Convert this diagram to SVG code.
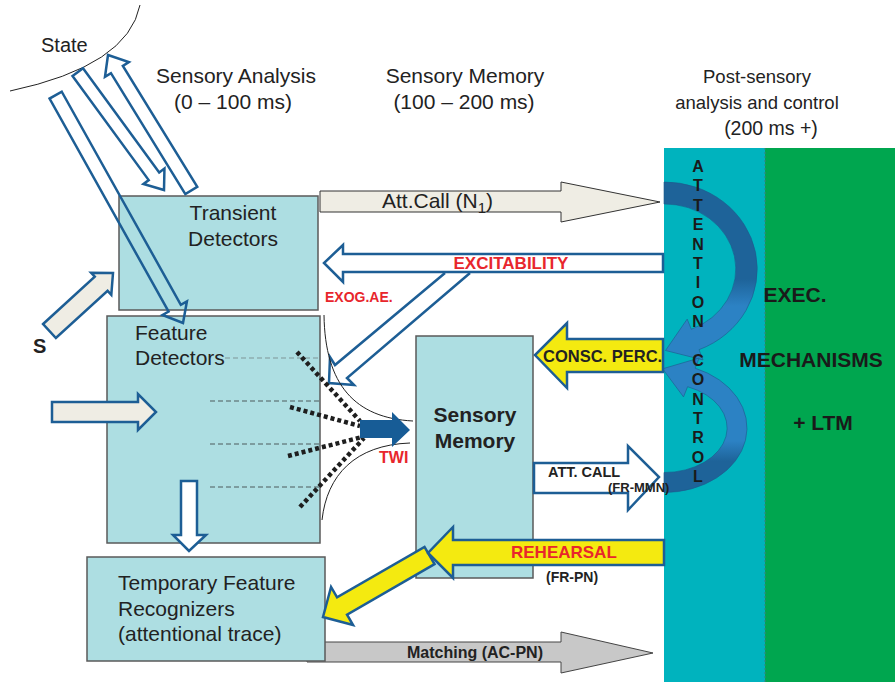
<svg xmlns="http://www.w3.org/2000/svg" width="895" height="682" viewBox="0 0 895 682">
<style>
text{font-family:"Liberation Sans",Arial,sans-serif;}
.hdr{font-size:21px;fill:#222;text-anchor:middle;}
.box{fill:#ADDEE2;stroke:#5a5a5a;stroke-width:1.5;}
.bt{font-size:21px;fill:#222;}
.bo{stroke:#1D5E95;stroke-width:2.5;stroke-linejoin:miter;}
.wh{fill:#fff;}
.cr{fill:#EFEDE4;}
.ye{fill:#F4EA10;}
.lb{font-weight:bold;fill:#222;}
.red{font-weight:bold;fill:#E8262C;}
.dash{stroke:#4d5a5c;stroke-width:1;stroke-dasharray:5,3;fill:none;}
.dot{stroke:#1e1e1e;stroke-width:4.5;stroke-dasharray:4,3;fill:none;}
.thin{stroke:#222;stroke-width:1;fill:none;}
.ac{font-size:16px;font-weight:bold;fill:#1a1a1a;text-anchor:middle;}
.ex{font-size:21px;font-weight:bold;fill:#1a1a1a;text-anchor:middle;}
</style>
<defs>
<linearGradient id="gUp" gradientUnits="userSpaceOnUse" x1="0" y1="180" x2="0" y2="360">
<stop offset="0" stop-color="#1E6399"/><stop offset="0.55" stop-color="#1E6399"/><stop offset="0.7" stop-color="#2C82C4"/><stop offset="1" stop-color="#2C82C4"/>
</linearGradient>
<linearGradient id="gLo" gradientUnits="userSpaceOnUse" x1="0" y1="360" x2="0" y2="495">
<stop offset="0" stop-color="#2C82C4"/><stop offset="0.6" stop-color="#2C82C4"/><stop offset="0.75" stop-color="#1E6399"/><stop offset="1" stop-color="#1E6399"/>
</linearGradient>
</defs>
<rect width="895" height="682" fill="#fff"/>

<!-- right columns -->
<g id="attention-control">
<rect x="664" y="148" width="101" height="534" fill="#00B3BE"/>
<path d="M664,182 A93,87 0 0 1 699,349.7 L703,359.9 L665.5,350.5 L687.2,319.1 L691.3,329.3 A71,65 0 0 0 664,204 Z" fill="url(#gUp)" stroke="#1B5A8C" stroke-width="0.6"/>
<path d="M664,492.5 A83,64.5 0 0 0 695.1,368.2 L699.2,358 L662.6,368.8 L683.5,396.9 L687.6,386.7 A63,44.5 0 0 1 664,472.5 Z" fill="url(#gLo)" stroke="#1B5A8C" stroke-width="0.6"/>
<text class="ac"><tspan x="698" y="172">A</tspan><tspan x="698" y="191.4">T</tspan><tspan x="698" y="210.8">T</tspan><tspan x="698" y="230.1">E</tspan><tspan x="698" y="249.5">N</tspan><tspan x="698" y="268.9">T</tspan><tspan x="698" y="288.3">I</tspan><tspan x="698" y="307.6">O</tspan><tspan x="698" y="327">N</tspan><tspan x="698" y="365.8">C</tspan><tspan x="698" y="385.1">O</tspan><tspan x="698" y="404.5">N</tspan><tspan x="698" y="423.9">T</tspan><tspan x="698" y="443.3">R</tspan><tspan x="698" y="462.6">O</tspan><tspan x="698" y="482">L</tspan></text>
</g>
<g id="exec-mechanisms">
<rect x="765" y="148" width="130" height="534" fill="#00A64F"/>
<line x1="765" y1="148" x2="765" y2="682" stroke="#3d7f80" stroke-width="1" stroke-dasharray="2,2"/>
<text class="ex" x="795" y="302">EXEC.</text>
<text class="ex" x="811" y="367">MECHANISMS</text>
<text class="ex" x="823" y="430">+ LTM</text>
</g>

<!-- headers -->
<g id="headers">
<text class="hdr" x="236" y="83">Sensory Analysis</text>
<text class="hdr" x="233" y="109">(0 – 100 ms)</text>
<text class="hdr" x="465" y="83">Sensory Memory</text>
<text class="hdr" x="464" y="109">(100 – 200 ms)</text>
<text class="hdr" x="757" y="83" style="font-size:18.5px">Post-sensory</text>
<text class="hdr" x="757" y="109" style="font-size:18.5px">analysis and control</text>
<text class="hdr" x="771" y="135" style="font-size:19.5px">(200 ms +)</text>
</g>

<g id="state">
<path d="M10,91 Q128,66 140,5" class="thin"/>
<text x="41" y="52" style="font-size:20px;fill:#222">State</text>
</g>

<!-- connector behind temporary box -->
<g id="connectors-back">
<polygon points="307,642 561,642 561,632 653,653 561,673 561,662 307,662" fill="#C8C8C8" stroke="#444" stroke-width="1"/>
<text class="lb" x="407" y="658" style="font-size:16px">Matching (AC-PN)</text>
</g>

<g id="transient-detectors">
<rect class="box" x="119" y="196" width="199" height="114"/>
<text class="bt" x="233" y="220" text-anchor="middle">Transient</text>
<text class="bt" x="233" y="246" text-anchor="middle">Detectors</text>
</g>

<g id="feature-detectors">
<rect class="box" x="107" y="316" width="213" height="227"/>
<text class="bt" x="135" y="340">Feature</text>
<text class="bt" x="135" y="365">Detectors</text>
<line class="dash" x1="225" y1="358" x2="320" y2="358" style="stroke:#7f9597"/>
<line class="dash" x1="210" y1="401" x2="320" y2="401"/>
<line class="dash" x1="210" y1="444" x2="320" y2="444"/>
<line class="dash" x1="210" y1="487" x2="320" y2="487"/>
</g>

<g id="temporary-feature-recognizers">
<rect class="box" x="87" y="557" width="238" height="104"/>
<text class="bt" x="118" y="590">Temporary Feature</text>
<text class="bt" x="118" y="616">Recognizers</text>
<text class="bt" x="118" y="641">(attentional trace)</text>
</g>

<g id="sensory-memory">
<rect class="box" x="416" y="336" width="117" height="242"/>
<text class="lb" x="475" y="422" text-anchor="middle" style="font-size:21px">Sensory</text>
<text class="lb" x="475" y="448" text-anchor="middle" style="font-size:21px">Memory</text>
</g>

<g id="connectors">
<!-- state arrows -->
<polygon class="bo wh" transform="translate(108,55) rotate(-121.6)" points="-159,-7 -17,-7 -17,-14 0,0 -17,14 -17,7 -159,7"/>
<polygon class="bo wh" transform="translate(164,190) rotate(53.8)" points="-146,-6.5 -17,-6.5 -17,-13 0,0 -17,13 -17,6.5 -146,6.5"/>
<polygon class="bo" fill="none" transform="translate(183,323) rotate(60.8)" points="-261,-7 -17,-7 -17,-14 0,0 -17,14 -17,7 -261,7"/>
<!-- S arrow -->
<polygon class="bo cr" transform="translate(113,273) rotate(-42.4)" points="-86,-9.5 -16,-9.5 -16,-15 0,0 -16,15 -16,9.5 -86,9.5"/>
<text class="lb" x="33" y="353" style="font-size:20px">S</text>
<!-- input arrow to feature detectors -->
<polygon class="bo cr" points="52,402 138,402 138,394 156,412 138,430 138,422 52,422"/>
<!-- down arrow -->
<polygon class="bo wh" points="181,481 197,481 197,535 206,535 189,551 173,535 181,535"/>
<!-- Att.Call N1 -->
<polygon points="320,191 561,191 561,182 660,202 561,222 561,212 320,212" fill="#EFEDE4" stroke="#333" stroke-width="1"/>
<text x="382" y="208" style="font-size:21px;fill:#222">Att.Call (N<tspan style="font-size:15px" dy="5">1</tspan><tspan dy="-5">)</tspan></text>
<!-- excitability branch -->
<path class="bo wh" d="M445,273 L335,365 L330,357 L329,383 L354,385 L347,378 L470,273"/>
<!-- excitability -->
<polygon class="bo wh" points="663,254 343,254 343,245 324,263 343,282 343,272 663,272"/>
<text class="red" x="511" y="269" text-anchor="middle" style="font-size:17px">EXCITABILITY</text>
<text class="red" x="325" y="302" style="font-size:14px">EXOG.AE.</text>
<!-- funnel -->
<path class="thin" d="M324,315 C325,385 355,418 413,421"/>
<path class="thin" d="M410,443 C355,445 327,475 322,520"/>
<line class="dot" x1="297" y1="352" x2="360" y2="421"/>
<line class="dot" x1="290" y1="407" x2="360" y2="426"/>
<line class="dot" x1="288" y1="456" x2="362" y2="437"/>
<line class="dot" x1="300" y1="507" x2="364" y2="438"/>
<polygon points="360,420 392,420 392,412 410,430 392,447 392,438 360,438" fill="#175C96"/>
<text class="red" x="379" y="463" style="font-size:16px">TWI</text>
<!-- consc perc -->
<polygon class="bo ye" points="663,339 567,339 567,323 535,355 567,388 567,372 663,372"/>
<text class="lb" x="543" y="362" style="font-size:16.5px">CONSC. PERC.</text>
<!-- att call fr-mmn -->
<polygon class="bo wh" points="534,463 628,463 628,446 659,477 628,510 628,493 534,493"/>
<text class="lb" x="548" y="477" style="font-size:14.5px">ATT. CALL</text>
<text class="lb" x="608" y="492" style="font-size:13px">(FR-MMN)</text>
<!-- rehearsal -->
<polygon class="bo ye" transform="translate(323,617) rotate(150)" points="-123,-10 -22,-10 -22,-22 0,0 -22,22 -22,10 -123,10"/>
<polygon class="bo ye" points="664,540 453,540 453,527 428,553 453,578 453,565 664,565"/>
<text class="red" x="511" y="558" style="font-size:17px">REHEARSAL</text>
<text class="lb" x="546" y="582" style="font-size:14px">(FR-PN)</text>
</g>
</svg>
